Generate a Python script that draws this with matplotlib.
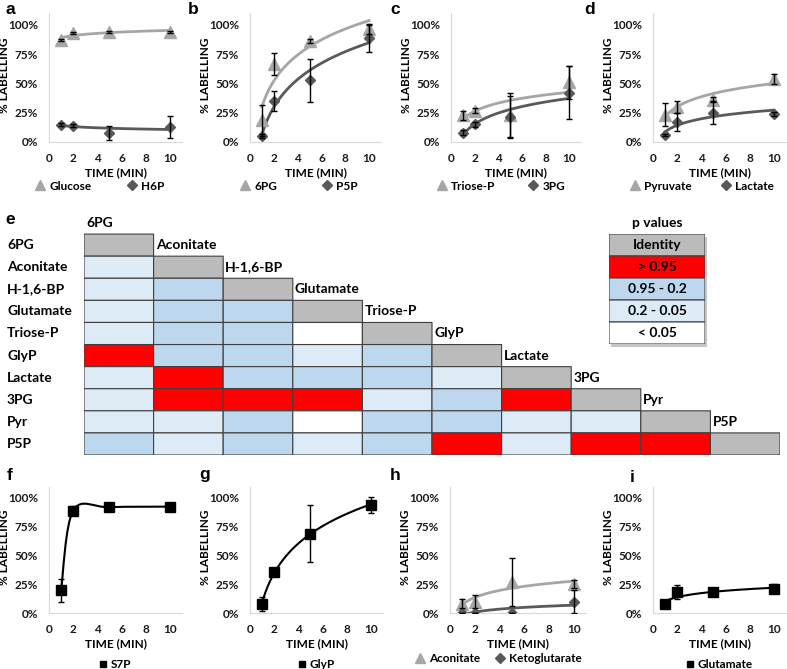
import numpy as np
import matplotlib
matplotlib.use('Agg')
import matplotlib.pyplot as plt
from matplotlib.path import Path
from matplotlib.patches import PathPatch
from matplotlib.legend import Legend
from matplotlib.colors import ListedColormap
from matplotlib.transforms import offset_copy

plt.rcParams['font.family'] = ['Lato', 'DejaVu Sans']
plt.rcParams['font.weight'] = 'bold'

# ---- data (fraction labelled) ----
time = [1, 2, 5, 10]

glucose = [0.87, 0.93, 0.94, 0.94]
glucose_err = [0.01, 0.01, 0.01, 0.01]
h6p = [0.148, 0.14, 0.08, 0.13]
h6p_err = [0.01, 0.01, 0.06, 0.095]

pg6 = [0.185, 0.665, 0.86, 0.96]
pg6_err = [0.13, 0.09, 0.02, 0.04]
p5p = [0.05, 0.35, 0.525, 0.89]
p5p_err = [0.02, 0.085, 0.18, 0.12]

triose_p = [0.227, 0.267, 0.23, 0.51]
triose_p_err = [0.04, 0.02, 0.185, 0.14]
pg3 = [0.08, 0.15, 0.21, 0.42]
pg3_err = [0.02, 0.02, 0.18, 0.225]

pyruvate = [0.233, 0.30, 0.36, 0.537]
pyruvate_err = [0.10, 0.05, 0.02, 0.04]
lactate = [0.057, 0.17, 0.25, 0.24]
lactate_err = [0.01, 0.08, 0.10, 0.02]

s7p = [0.197, 0.89, 0.92, 0.925]
s7p_err = [0.10, 0.04, 0.01, 0.01]

glyp = [0.08, 0.36, 0.69, 0.94]
glyp_err = [0.06, 0.02, 0.25, 0.07]

aconitate = [0.082, 0.10, 0.27, 0.25]
aconitate_err = [0.04, 0.06, 0.21, 0.035]
ketoglutarate = [0.0, 0.0, 0.0, 0.10]
ketoglutarate_err = [0.0, 0.0, 0.0, 0.10]

glutamate = [0.074, 0.18, 0.18, 0.21]
glutamate_err = [0.01, 0.06, 0.01, 0.04]

# p value matrix, lower triangle: 0 <0.05, 1 0.2-0.05, 2 0.95-0.2, 3 >0.95
metabolites = ['6PG', 'Aconitate', 'H-1,6-BP', 'Glutamate', 'Triose-P',
               'GlyP', 'Lactate', '3PG', 'Pyr', 'P5P']
pvalue_codes = [
    [],
    [1],
    [1, 2],
    [1, 2, 2],
    [1, 2, 2, 0],
    [3, 2, 2, 1, 2],
    [1, 3, 2, 2, 2, 1],
    [1, 3, 3, 3, 1, 2, 3],
    [1, 1, 2, 0, 2, 2, 1, 1],
    [2, 1, 2, 1, 2, 3, 1, 3, 3],
]
legend_labels = ['Identity', '> 0.95', '0.95 - 0.2', '0.2 - 0.05', '< 0.05']
legend_codes = [4, 3, 2, 1, 0]

LIGHT = '#A6A6A6'
DARK = '#595959'
W, H = 787, 669

fig = plt.figure(figsize=(W / 100, H / 100), dpi=100)


def px_axes(left, top, width, height):
    return fig.add_axes([left / W, 1 - (top + height) / H, width / W, height / H])


def letter(x, y, s):
    fig.text(x / W, 1 - y / H, s, fontsize=12.5, fontweight='bold',
             family='Liberation Sans', ha='center', va='center')


def log_trend(x, y):
    b, a = np.polyfit(np.log(x), y, 1)
    xs = np.linspace(min(x), max(x), 200)
    return xs, a + b * np.log(xs)


def smooth_line(ax, x, y, **kw):
    # excel style smoothed line (bezier through the points)
    pts = np.column_stack([x, y]).astype(float)
    verts = [pts[0]]
    codes = [Path.MOVETO]
    n = len(pts)
    for i in range(n - 1):
        p_prev = pts[max(i - 1, 0)]
        p0, p1 = pts[i], pts[i + 1]
        p_next = pts[min(i + 2, n - 1)]
        c1 = p0 + (p1 - p_prev) / 6
        c2 = p1 - (p_next - p0) / 6
        verts += [c1, c2, p1]
        codes += [Path.CURVE4] * 3
    ax.add_patch(PathPatch(Path(verts, codes), fill=False, **kw))


def make_panel(left, top, width, height):
    ax = px_axes(left, top, width, height)
    ax.set_xlim(0, 11)
    ax.set_ylim(0, 1.1)
    ax.set_xticks([0, 2, 4, 6, 8, 10])
    ax.set_yticks([0, 0.25, 0.5, 0.75, 1.0])
    ax.set_yticklabels(['0%', '25%', '50%', '75%', '100%'])
    ax.tick_params(axis='both', length=0, labelsize=8.5, colors='#1a1a1a')
    ax.tick_params(axis='y', pad=8)
    ax.tick_params(axis='x', pad=8)
    for s in ['top', 'right']:
        ax.spines[s].set_visible(False)
    for s in ['left', 'bottom']:
        ax.spines[s].set_color('#D9D9D9')
        ax.spines[s].set_linewidth(0.8)
    ax.set_xlabel('TIME (MIN)', fontsize=8.5, fontweight='bold')
    ax.xaxis.set_label_coords(0.5, -25 / height)
    ax.set_ylabel('% LABELLING', fontsize=8.5, fontweight='bold')
    ax.yaxis.set_label_coords(-39 / width, 0.52)
    return ax


def entry(ax, handle, x_px, y_frac, width):
    leg = Legend(ax, [handle], [handle.get_label()], loc='center left',
                 bbox_to_anchor=((x_px - 5) / width, y_frac), frameon=False,
                 handlelength=0.9, handletextpad=0.3, fontsize=8.5,
                 borderaxespad=0, borderpad=0, markerscale=0.85)
    ax.add_artist(leg)


def two_series(ax, y1, e1, n1, y2, e2, n2, leg_y, x1, x2, width):
    xs, ys = log_trend(time, y1)
    ax.plot(xs, ys, color=LIGHT, lw=2, zorder=1)
    xs, ys = log_trend(time, y2)
    ax.plot(xs, ys, color=DARK, lw=2, zorder=1)
    h1, = ax.plot(time, y1, '^', color=LIGHT, ms=8.5, label=n1, zorder=2)
    h2, = ax.plot(time, y2, 'D', color=DARK, ms=5.5, label=n2, zorder=2)
    ax.errorbar(time, y1, yerr=e1, fmt='none', ecolor='black', elinewidth=1,
                capsize=2.5, zorder=3)
    ax.errorbar(time, y2, yerr=e2, fmt='none', ecolor='black', elinewidth=1,
                capsize=2.5, zorder=3)
    entry(ax, h1, x1, leg_y, width)
    entry(ax, h2, x2, leg_y, width)


def one_series(ax, y, e, name, leg_y, smooth=False):
    if smooth:
        smooth_line(ax, time, y, color='black', lw=1.5, zorder=1)
    else:
        xs, ys = log_trend(time, y)
        ax.plot(xs, ys, color='black', lw=1.5, zorder=1)
    ax.plot(time, y, 's', color='black', ms=7.5, label=name, zorder=2)
    ax.errorbar(time, y, yerr=e, fmt='none', ecolor='black', elinewidth=1,
                capsize=2.5, zorder=3)
    ax.legend(loc='center', bbox_to_anchor=(0.5, leg_y), frameon=False,
              handlelength=0.6, handletextpad=0.3, fontsize=8.5,
              borderaxespad=0, borderpad=0, markerscale=0.6)


# ---- top row ----
ax_a = make_panel(49, 13, 133, 129)
two_series(ax_a, glucose, glucose_err, 'Glucose', h6p, h6p_err, 'H6P',
           -44 / 129, -9, 83, 133)
ax_b = make_panel(250, 13, 131, 129)
two_series(ax_b, pg6, pg6_err, '6PG', p5p, p5p_err, 'P5P',
           -44 / 129, -5, 77, 131)
ax_c = make_panel(451, 13, 130, 129)
two_series(ax_c, triose_p, triose_p_err, 'Triose-P', pg3, pg3_err, '3PG',
           -44 / 129, -9, 82, 130)
ax_d = make_panel(653, 13, 133, 129)
two_series(ax_d, pyruvate, pyruvate_err, 'Pyruvate', lactate, lactate_err, 'Lactate',
           -44 / 129, -18, 73, 133)

# ---- bottom row ----
ax_f = make_panel(49, 486.5, 133, 126.5)
one_series(ax_f, s7p, s7p_err, 'S7P', -52 / 126.5, smooth=True)
ax_g = make_panel(250, 486.5, 133, 126.5)
one_series(ax_g, glyp, glyp_err, 'GlyP', -52 / 126.5)
ax_h = make_panel(450, 486.5, 136, 126.5)
two_series(ax_h, aconitate, aconitate_err, 'Aconitate', ketoglutarate,
           ketoglutarate_err, 'Ketoglutarate', -46 / 126.5, -30, 50, 136)
ax_i = make_panel(653, 486.5, 133, 126.5)
one_series(ax_i, glutamate, glutamate_err, 'Glutamate', -52 / 126.5)

# ---- heatmap (e) ----
cmap = ListedColormap(['#FFFFFF', '#DDEBF7', '#BDD7EE', '#FF0000', '#BBBBBB'])
n = len(metabolites)
grid = np.full((n, n), np.nan)
for i, row in enumerate(pvalue_codes):
    grid[i, :len(row)] = row
    grid[i, i] = 4
hm = px_axes(84, 212, 696, 243)
hm.set_xlim(0, n)
hm.set_ylim(n, -1)
hm.axis('off')
# soft shadow under the last row
shadow = offset_copy(hm.transData, fig=fig, x=2, y=-3, units='dots')
hm.pcolor(np.arange(n + 1), [n - 1, n], np.zeros((1, n)), cmap=ListedColormap(['#7F7F7F']),
          alpha=0.45, transform=shadow, zorder=0, linewidth=0)
hm.pcolor(np.arange(n + 1), np.arange(n + 1), np.ma.masked_invalid(grid),
          cmap=cmap, vmin=-0.5, vmax=4.5, edgecolors='#3F3F3F', linewidth=0.8,
          zorder=1)
for i, name in enumerate(metabolites):
    hm.text(-1.106, i + 0.5, name, ha='left', va='center', fontsize=10,
            fontweight='bold', clip_on=False)
    hm.text(i + 0.03, i - 0.5, name, ha='left', va='center', fontsize=10,
            fontweight='bold', clip_on=False)

lg = px_axes(609, 234, 96, 110)
lg.set_xlim(0, 1)
lg.set_ylim(len(legend_codes), 0)
lg.axis('off')
lg_shadow = offset_copy(lg.transData, fig=fig, x=2, y=-3, units='dots')
lg.pcolor([0, 1], [0, len(legend_codes)], np.zeros((1, 1)),
          cmap=ListedColormap(['#7F7F7F']), alpha=0.45, transform=lg_shadow,
          zorder=0, linewidth=0, clip_on=False)
lg.pcolor([0, 1], np.arange(len(legend_codes) + 1),
          np.array(legend_codes).reshape(-1, 1), cmap=cmap, vmin=-0.5,
          vmax=4.5, edgecolors='#3F3F3F', linewidth=0.8, zorder=1)
for i, lab in enumerate(legend_labels):
    lg.text(0.5, i + 0.5, lab, ha='center', va='center', fontsize=10,
            fontweight='bold')
lg.text(0.5, -0.5, 'p values', ha='center', va='center', fontsize=10,
        fontweight='bold', clip_on=False)

for s, x, y in [('a', 10, 9), ('b', 193, 9), ('c', 395, 9), ('d', 590, 9),
                ('e', 10, 220), ('f', 10, 475), ('g', 205, 475),
                ('h', 395, 475), ('i', 632, 478)]:
    letter(x, y, s)

fig.savefig('out.png', dpi=100)
